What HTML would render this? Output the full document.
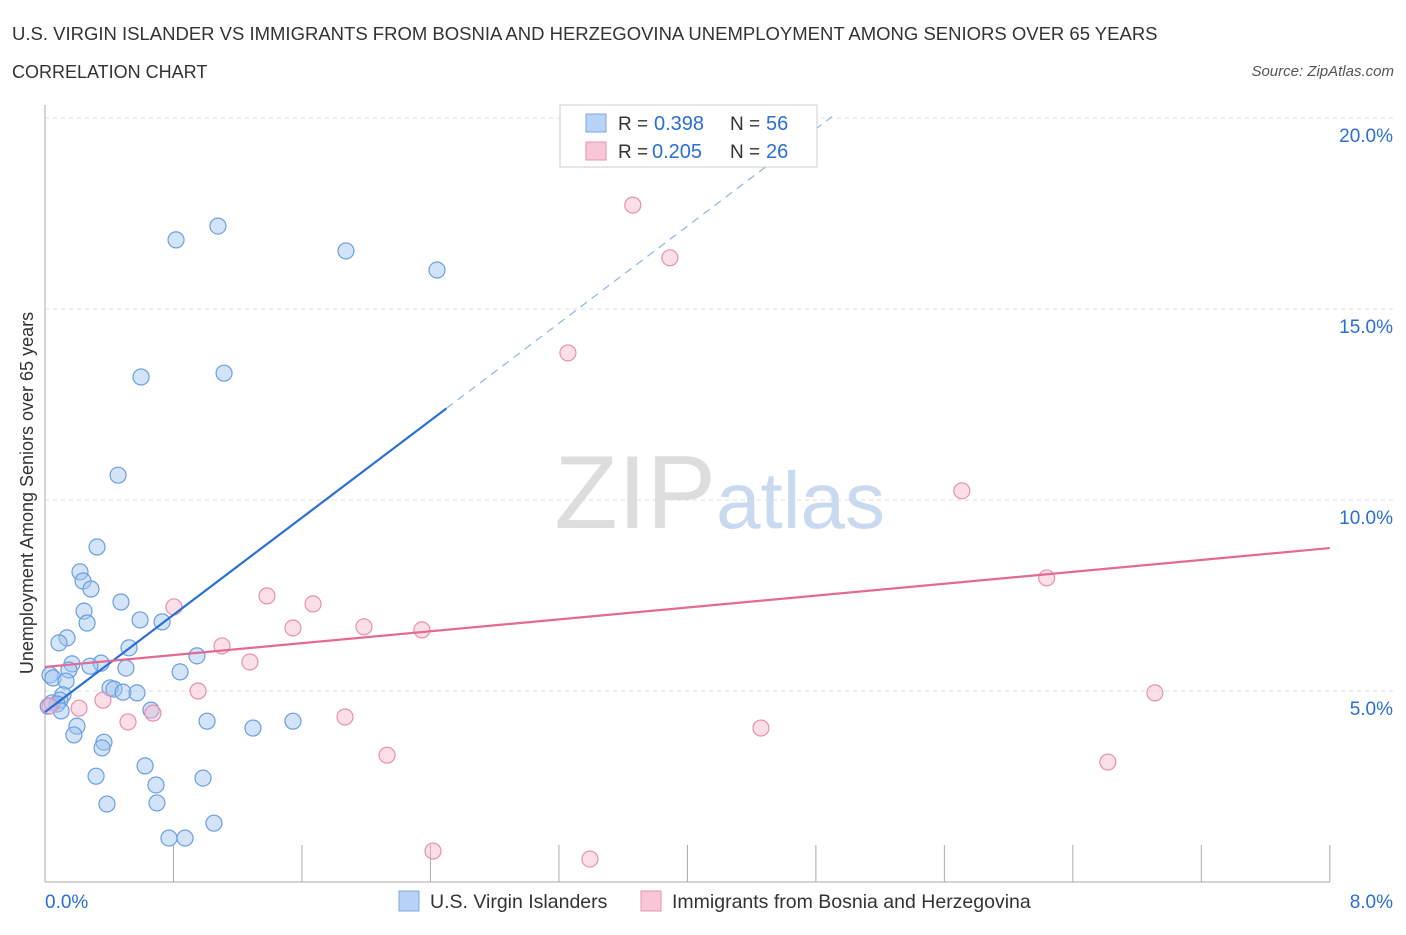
<!DOCTYPE html>
<html><head><meta charset="utf-8"><style>
body{margin:0;background:#fff;font-family:"Liberation Sans",sans-serif;}
svg text{font-family:"Liberation Sans",sans-serif;}
</style></head><body>
<svg id="c" width="1406" height="930" xmlns="http://www.w3.org/2000/svg">
<text x="12" y="40" font-size="18.5" fill="#333">U.S. VIRGIN ISLANDER VS IMMIGRANTS FROM BOSNIA AND HERZEGOVINA UNEMPLOYMENT AMONG SENIORS OVER 65 YEARS</text>
<text x="12" y="78" font-size="18" fill="#333">CORRELATION CHART</text>
<text x="1394" y="76" font-size="15" fill="#555" font-style="italic" text-anchor="end">Source: ZipAtlas.com</text>
<text x="716" y="528" font-size="104" fill="#ddd" font-family="Liberation Serif" text-anchor="end">ZIP</text>
<text x="716" y="528" font-size="80" fill="#c9daf0">atlas</text>
<g id="grid"></g>
<g id="axes"></g>
<g id="marks"></g>
<text transform="translate(33,493) rotate(-90)" font-size="18" fill="#333" text-anchor="middle">Unemployment Among Seniors over 65 years</text>
<g>
<rect x="560" y="105" width="257" height="62" fill="#fff" stroke="#ccc"/>
<rect x="586" y="114" width="20" height="18" fill="#b8d3f5" stroke="#7aa8e6"/>
<text x="618" y="130" font-size="19" fill="#333">R = </text>
<text x="654" y="130" font-size="20" fill="#2a6fd6">0.398</text>
<text x="730" y="130" font-size="19" fill="#333">N = </text>
<text x="766" y="130" font-size="20" fill="#2a6fd6">56</text>
<rect x="586" y="142" width="20" height="18" fill="#f8c6d6" stroke="#e995b2"/>
<text x="618" y="158" font-size="19" fill="#333">R = </text>
<text x="652" y="158" font-size="20" fill="#2a6fd6">0.205</text>
<text x="730" y="158" font-size="19" fill="#333">N = </text>
<text x="766" y="158" font-size="20" fill="#2a6fd6">26</text>
</g>
<g>
<rect x="399" y="891" width="20" height="20" fill="#b8d3f5" stroke="#7aa8e6"/>
<text x="430" y="908" font-size="19.5" fill="#333">U.S. Virgin Islanders</text>
<rect x="641" y="891" width="20" height="20" fill="#f8c6d6" stroke="#e995b2"/>
<text x="672" y="908" font-size="19.5" fill="#333">Immigrants from Bosnia and Herzegovina</text>
</g>
</svg>
<script>
const blueX=[0.816,1.077,1.874,2.441,0.598,1.115,0.455,0.324,0.218,0.237,0.286,0.473,0.243,0.262,0.592,0.729,0.137,0.087,0.523,0.946,0.168,0.349,0.280,0.504,0.149,0.841,0.031,0.050,0.131,0.405,0.430,0.486,0.573,0.112,0.093,0.044,0.075,0.100,0.660,1.009,1.544,0.199,1.295,0.180,0.367,0.355,0.623,0.318,0.984,0.691,0.386,0.697,1.052,0.772,0.872,0.02];
const blueY=[16.81,17.17,16.52,16.02,13.22,13.32,10.65,8.77,8.12,7.88,7.67,7.33,7.09,6.78,6.86,6.81,6.39,6.26,6.13,5.92,5.71,5.73,5.65,5.60,5.55,5.50,5.42,5.34,5.26,5.08,5.05,4.97,4.95,4.90,4.76,4.69,4.66,4.48,4.50,4.21,4.21,4.08,4.03,3.85,3.66,3.51,3.04,2.77,2.72,2.54,2.04,2.07,1.54,1.15,1.15,4.6];
const pinkX=[3.660,3.891,3.256,5.709,6.237,1.382,1.669,0.803,1.544,1.986,2.347,1.102,1.276,0.953,6.911,0.361,0.031,0.212,1.868,0.517,0.672,4.458,2.130,6.618,2.416,3.393];
const pinkY=[17.72,16.34,13.85,10.24,7.96,7.49,7.28,7.20,6.65,6.68,6.60,6.18,5.76,5.00,4.95,4.76,4.61,4.55,4.32,4.19,4.42,4.03,3.32,3.14,0.81,0.60];
const yTicks=[5,10,15,20];
const yTickLabels=["5.0%","10.0%","15.0%","20.0%"];
const xTicks=[0,0.8,1.6,2.4,3.2,4.0,4.8,5.6,6.4,7.2,8.0];
const blueLine={intercept:4.45,slope:3.18,solidEnd:2.5,dashEnd:4.9};
const pinkLine={intercept:5.63,slope:0.389,end:8.0};
const X=v=>45+v*160.6, Y=v=>882-v*38.2;
const ns="http://www.w3.org/2000/svg";
function mk(p,t,a){const e=document.createElementNS(ns,t);for(const k in a)e.setAttribute(k,a[k]);document.getElementById(p).appendChild(e);return e;}
yTicks.forEach((t,i)=>{
 const g=mk('grid','line',{x1:45,x2:1395,y1:Y(t),y2:Y(t),stroke:'#ddd','stroke-dasharray':'4,4'});
 
 
 const l=mk('axes','text',{x:1393,y:Y(t)+24,'font-size':19,fill:'#2a6fd6','text-anchor':'end'});
 l.textContent=yTickLabels[i];
 
 
});
const ax=mk('axes','line',{x1:45,x2:45,y1:105,y2:882,stroke:'#aaa'});


const bx=mk('axes','line',{x1:45,x2:1330,y1:882,y2:882,stroke:'#aaa'});


xTicks.forEach(t=>{
 const k=mk('axes','line',{x1:X(t),x2:X(t),y1:845,y2:882,stroke:'#aaa'});
 
 
});
const xl0=mk('axes','text',{x:45,y:908,'font-size':19,fill:'#2a6fd6'});xl0.textContent="0.0%";


const xl1=mk('axes','text',{x:1393,y:908,'font-size':19,fill:'#2a6fd6','text-anchor':'end'});xl1.textContent="8.0%";


blueX.forEach((x,i)=>{
 const c=mk('marks','circle',{cx:X(x),cy:Y(blueY[i]),r:8,fill:'rgba(160,196,240,0.45)',stroke:'#6a9fdf','stroke-width':1.2});
 
 
});
pinkX.forEach((x,i)=>{
 const c=mk('marks','circle',{cx:X(x),cy:Y(pinkY[i]),r:8,fill:'rgba(246,184,204,0.45)',stroke:'#e890ae','stroke-width':1.2});
 
 
});
const bl=blueLine;
const b1=mk('marks','line',{x1:X(0),y1:Y(bl.intercept),x2:X(bl.solidEnd),y2:Y(bl.intercept+bl.slope*bl.solidEnd),stroke:'#2a6fd6','stroke-width':2.2});


const b2=mk('marks','line',{x1:X(bl.solidEnd),y1:Y(bl.intercept+bl.slope*bl.solidEnd),x2:X(bl.dashEnd),y2:Y(bl.intercept+bl.slope*bl.dashEnd),stroke:'#8fb4e6','stroke-width':1.2,'stroke-dasharray':'8,6'});


const p1=mk('marks','line',{x1:X(0),y1:Y(pinkLine.intercept),x2:X(pinkLine.end),y2:Y(pinkLine.intercept+pinkLine.slope*pinkLine.end),stroke:'#e36a94','stroke-width':2.2});


</script>
</body></html>
